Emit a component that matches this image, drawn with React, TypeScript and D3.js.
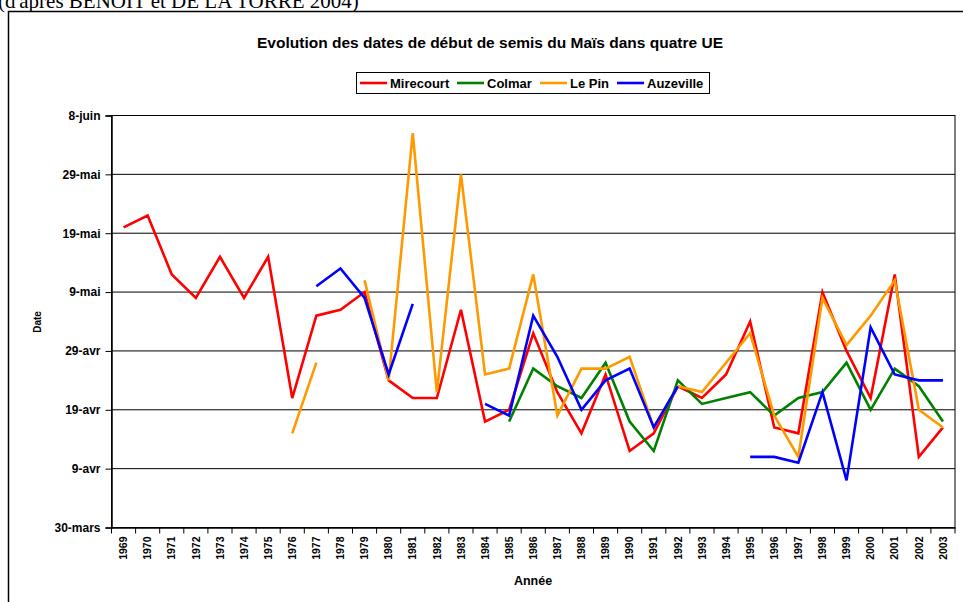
import React, { useEffect, useRef } from 'react';
import * as d3 from 'd3';

// days counted from 30 March (0 = 30-mars, 10 = 9-avr, ...)
const years = d3.range(1969, 2004).map(String);

const mirecourt: (number | null)[] = [
  51, 53, 43, 39, 46, 39, 46, 22, 36, 37, 40, 25, 22, 22, 37, 18, 20, 33,
  23, 16, 26, 13, 16, 24, 22, 26, 35, 17, 16, 40, 30, 22, 43, 12, 17,
];
const colmar: (number | null)[] = [
  null, null, null, null, null, null, null, null, null, null, null, null, null, null, null, null,
  18, 27, 24, 22, 28, 18, 13, 25, 21, 22, 23, 19, 22, 23, 28, 20, 27, 24, 18,
];
const lePin: (number | null)[] = [
  null, null, null, null, null, null, null, 16, 28, null, 42, 25, 67, 23, 60, 26, 27, 43,
  19, 27, 27, 29, 17, 24, 23, 28, 33, 19, 12, 39, 31, 36, 42, 20, 17,
];
const auzeville: (number | null)[] = [
  null, null, null, null, null, null, null, null, 41, 44, 39, 26, 38, null, null, 21, 19, 36,
  29, 20, 25, 27, 17, 24, null, null, 12, 12, 11, 23, 8, 34, 26, 25, 25,
];

const seriesNames = ['Mirecourt', 'Colmar', 'Le Pin', 'Auzeville'];
const seriesColors = ['#FF0000', '#008000', '#FF9900', '#0000FF'];
const seriesValues = [mirecourt, colmar, lePin, auzeville];

const dateTicks = [0, 10, 20, 30, 40, 50, 60, 70];
const dateLabels = ['30-mars', '9-avr', '19-avr', '29-avr', '9-mai', '19-mai', '29-mai', '8-juin'];

const App: React.FC = () => {
  const svgRef = useRef<SVGSVGElement>(null);

  useEffect(() => {
    if (!svgRef.current) return;
    const svg = d3.select(svgRef.current);
    svg.selectAll('*').remove();

    const left = 111.5, right = 955, top = 115.5, bottom = 527.5;
    const font = 'Arial, "Liberation Sans", sans-serif';

    const x = d3.scaleBand<string>().domain(years).range([left, right]);
    const y = d3.scaleLinear().domain([0, 70]).range([bottom, top]);

    // source line (cut at top)
    svg.append('text')
      .attr('x', -2).attr('y', 8)
      .attr('font-family', '"Liberation Serif", "Times New Roman", serif')
      .attr('font-size', 21)
      .text("(d'après BENOIT et DE LA TORRE 2004)");

    // outer frame
    svg.append('rect')
      .attr('x', 8.5).attr('y', 11.5)
      .attr('width', 1000).attr('height', 700)
      .attr('fill', 'white').attr('stroke', '#000').attr('stroke-width', 1.5);

    svg.append('text')
      .attr('x', 490).attr('y', 47.5)
      .attr('text-anchor', 'middle')
      .attr('font-family', font).attr('font-weight', 'bold').attr('font-size', 15.5)
      .text('Evolution des dates de début de semis du Maïs dans quatre UE');

    // gridlines
    svg.append('g').selectAll('line')
      .data(dateTicks.slice(1))
      .join('line')
      .attr('x1', left).attr('x2', right)
      .attr('y1', d => y(d)).attr('y2', d => y(d))
      .attr('stroke', '#000').attr('stroke-width', 1);

    // plot border
    svg.append('rect')
      .attr('x', left).attr('y', top)
      .attr('width', right - left).attr('height', bottom - top)
      .attr('fill', 'none').attr('stroke', '#000').attr('stroke-width', 1);

    // y axis
    const yAxis = svg.append('g').attr('transform', `translate(${left},0)`)
      .call(d3.axisLeft(y).tickValues(dateTicks).tickSize(6).tickPadding(5)
        .tickFormat((d, i) => dateLabels[i]));
    yAxis.select('.domain').attr('stroke', '#000').attr('stroke-width', 1.5);
    yAxis.selectAll('text')
      .attr('font-family', font).attr('font-weight', 'bold').attr('font-size', 12).attr('fill', '#000');

    // x axis
    const xAxis = svg.append('g').attr('transform', `translate(0,${bottom})`)
      .call(d3.axisBottom(x).tickSize(0).tickPadding(0));
    xAxis.select('.domain').attr('stroke', '#000').attr('stroke-width', 1.5);
    xAxis.selectAll('text')
      .attr('font-family', font).attr('font-weight', 'bold').attr('font-size', 10.5).attr('fill', '#000')
      .attr('transform', 'rotate(-90)')
      .attr('text-anchor', 'end')
      .attr('dy', '0.35em')
      .attr('x', -9)
      .attr('y', 0);
    svg.append('g').selectAll('line')
      .data(years.concat(['end']))
      .join('line')
      .attr('x1', (d, i) => left + i * x.bandwidth())
      .attr('x2', (d, i) => left + i * x.bandwidth())
      .attr('y1', bottom).attr('y2', bottom + 6)
      .attr('stroke', '#000').attr('stroke-width', 1);

    // axis titles
    svg.append('text')
      .attr('transform', 'translate(41,322) rotate(-90)')
      .attr('text-anchor', 'middle')
      .attr('font-family', font).attr('font-weight', 'bold').attr('font-size', 10)
      .text('Date');
    svg.append('text')
      .attr('x', 533).attr('y', 585)
      .attr('text-anchor', 'middle')
      .attr('font-family', font).attr('font-weight', 'bold').attr('font-size', 12.5)
      .text('Année');

    // series lines
    const line = d3.line<number | null>()
      .defined(d => d !== null)
      .x((d, i) => (x(years[i]) as number) + x.bandwidth() / 2)
      .y(d => y(d as number));

    seriesValues.forEach((vals, k) => {
      svg.append('path')
        .datum(vals)
        .attr('fill', 'none')
        .attr('stroke', seriesColors[k])
        .attr('stroke-width', 2.6)
        .attr('stroke-linejoin', 'miter')
        .attr('d', line);
    });

    // legend
    const legend = svg.append('g');
    legend.append('rect')
      .attr('x', 356.5).attr('y', 72.5).attr('width', 353).attr('height', 21)
      .attr('fill', 'white').attr('stroke', '#000').attr('stroke-width', 1);
    const legendX = [360, 457, 540, 617];
    seriesNames.forEach((name, k) => {
      legend.append('line')
        .attr('x1', legendX[k]).attr('x2', legendX[k] + 27)
        .attr('y1', 83).attr('y2', 83)
        .attr('stroke', seriesColors[k]).attr('stroke-width', 2.6);
      legend.append('text')
        .attr('x', legendX[k] + 30).attr('y', 87.5)
        .attr('font-family', font).attr('font-weight', 'bold').attr('font-size', 13)
        .text(name);
    });
  }, []);

  return (
    <div style={{ position: 'absolute', left: 0, top: 0 }}>
      <svg ref={svgRef} width={963} height={602} style={{ display: 'block' }} />
    </div>
  );
};

export default App;
